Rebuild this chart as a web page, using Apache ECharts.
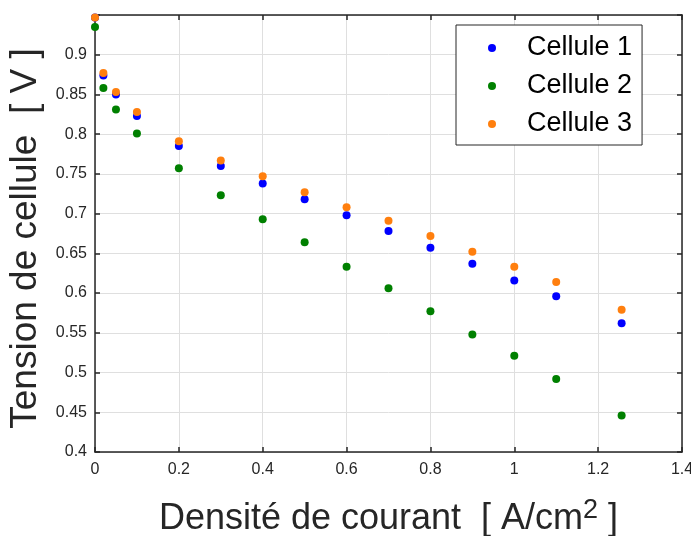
<!DOCTYPE html>
<html>
<head>
<meta charset="utf-8">
<script src="https://cdn.jsdelivr.net/npm/echarts@6/dist/echarts.min.js"></script>
<style>html,body{margin:0;padding:0;background:#fff}#c{width:691px;height:536px}</style>
</head>
<body>
<div id="c"></div>
<script>
var xValues = [0, 0.02, 0.05, 0.1, 0.2, 0.3, 0.4, 0.5, 0.6, 0.7, 0.8, 0.9, 1.0, 1.1, 1.256];
var cellule1 = [0.947, 0.874, 0.850, 0.823, 0.785, 0.760, 0.738, 0.718, 0.698, 0.678, 0.657, 0.637, 0.616, 0.596, 0.562];
var cellule2 = [0.935, 0.858, 0.831, 0.801, 0.757, 0.723, 0.693, 0.664, 0.633, 0.606, 0.577, 0.548, 0.521, 0.492, 0.446];
var cellule3 = [0.947, 0.877, 0.853, 0.828, 0.791, 0.767, 0.747, 0.727, 0.708, 0.691, 0.672, 0.652, 0.633, 0.614, 0.579];
var seriesNames = ['Cellule 1', 'Cellule 2', 'Cellule 3'];
var seriesColors = ['#0000ff', '#008000', '#ff7f0e'];

function pairs(ys){ return xValues.map(function(x,i){ return [x, ys[i]]; }); }
var FONT = '"Liberation Sans", Arial, Helvetica, sans-serif';
var AX = '#262626';
var chart = echarts.init(document.getElementById('c'), null, {renderer:'canvas'});
var axisCommonX = {
  type:'value', min:0, max:1.4, interval:0.2,
  axisLine:{show:true, onZero:false, lineStyle:{color:AX, width:1.5}},
  axisTick:{show:true, inside:true, length:5, lineStyle:{color:AX, width:1.5}}
};
var axisCommonY = {
  type:'value', min:0.4, max:0.95, interval:0.05,
  axisLine:{show:true, onZero:false, lineStyle:{color:AX, width:1.5}},
  axisTick:{show:true, inside:true, length:5, lineStyle:{color:AX, width:1.5}}
};
var option = {
  backgroundColor:'#fff',
  animation:false,
  grid:{left:95, right:9, top:15, bottom:84, containLabel:false, outerBoundsMode:'none'},
  legend:{
    orient:'vertical', left:456, top:25,
    padding:[8, 10, 6, 32],
    itemWidth:8, itemHeight:8, itemGap:8,
    backgroundColor:'#fff', borderColor:AX, borderWidth:1,
    textStyle:{fontFamily:FONT, fontSize:27, color:'#000', lineHeight:30, padding:[0,0,0,26]},
    data:seriesNames.map(function(n){ return {name:n, icon:'circle'}; })
  },
  xAxis:[
    Object.assign({}, axisCommonX, {
      position:'bottom',
      name:'{a|Densité de courant  [ A/cm}{s|2}{a| ]}',
      nameLocation:'middle', nameGap:45,
      nameTextStyle:{rich:{
        a:{fontFamily:FONT, fontSize:36, color:AX, verticalAlign:'bottom'},
        s:{fontFamily:FONT, fontSize:27, color:AX, verticalAlign:'bottom', padding:[0,0,13,0]}
      }},
      axisLabel:{show:true, margin:10, color:AX, fontFamily:FONT, fontSize:16},
      splitLine:{show:true, lineStyle:{color:'#dfdfdf', width:1}}
    }),
    Object.assign({}, axisCommonX, {
      position:'top', axisLabel:{show:false}, splitLine:{show:false}
    })
  ],
  yAxis:[
    Object.assign({}, axisCommonY, {
      position:'left',
      name:'Tension de cellule  [ V ]',
      nameLocation:'middle', nameGap:51, nameRotate:90,
      nameTextStyle:{fontFamily:FONT, fontSize:37, color:AX, padding:[0,10,0,0]},
      axisLabel:{show:true, margin:8, color:AX, fontFamily:FONT, fontSize:16,
        formatter:function(v){ return Math.abs(v-0.95)<1e-6 ? '' : String(Math.round(v*100)/100); }},
      splitLine:{show:true, lineStyle:{color:'#dfdfdf', width:1}}
    }),
    Object.assign({}, axisCommonY, {
      position:'right', axisLabel:{show:false}, splitLine:{show:false}
    })
  ],
  series:[cellule1, cellule2, cellule3].map(function(ys, i){
    return {
      name:seriesNames[i], type:'scatter', symbol:'circle', symbolSize:8,
      clip:false, xAxisIndex:0, yAxisIndex:0,
      itemStyle:{color:seriesColors[i], opacity:1},
      data:pairs(ys), z:2+i
    };
  })
};
chart.setOption(option);
</script>
</body>
</html>
